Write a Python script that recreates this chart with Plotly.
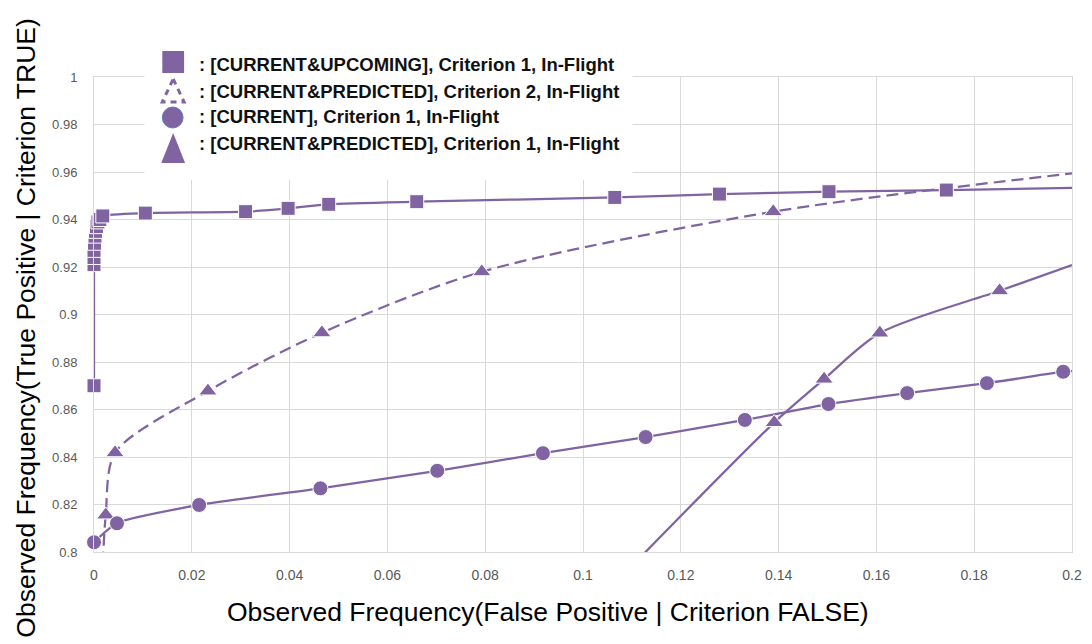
import plotly.graph_objects as go

# ---------------- data ----------------
# [CURRENT&UPCOMING], Criterion 1, In-Flight  (squares, solid)
up_x = [0.0, 0.0, 0.0, 0.0, 0.0001, 0.0002, 0.0003, 0.0005, 0.0008, 0.0012, 0.0018,
        0.0105, 0.031, 0.0397, 0.048, 0.066, 0.1065, 0.1279, 0.1503, 0.1743, 0.2]
up_y = [0.870, 0.921, 0.924, 0.927, 0.930, 0.933, 0.935, 0.937, 0.939, 0.940, 0.9415,
        0.9427, 0.9433, 0.9447, 0.9464, 0.9475, 0.9493, 0.9507, 0.9517, 0.9524, 0.9533]
up_marker = [True] * 20 + [False]

# [CURRENT&PREDICTED], Criterion 2, In-Flight  (triangles, dashed)
p2_x = [0.0018, 0.0024, 0.0043, 0.0233, 0.0466, 0.0793, 0.1389, 0.2]
p2_y = [0.795, 0.8156, 0.8418, 0.8678, 0.8923, 0.918, 0.9433, 0.9594]
p2_marker = [False, True, True, True, True, True, True, False]

# [CURRENT], Criterion 1, In-Flight  (circles, solid)
cur_x = [0.0, 0.0047, 0.0215, 0.0463, 0.0702, 0.0918, 0.1128, 0.1331, 0.1502,
         0.1663, 0.1826, 0.1982, 0.2]
cur_y = [0.8041, 0.8121, 0.8198, 0.8268, 0.8342, 0.8416, 0.8484, 0.8556, 0.8623,
         0.8669, 0.8711, 0.8759, 0.8762]
cur_marker = [True] * 12 + [False]

# [CURRENT&PREDICTED], Criterion 1, In-Flight  (triangles, solid)
p1_x = [0.109, 0.1391, 0.1493, 0.1607, 0.1852, 0.2]
p1_y = [0.792, 0.8545, 0.8728, 0.8922, 0.910, 0.9208]
p1_marker = [False, True, True, True, True, False]

series_names = [
    ": [CURRENT&UPCOMING], Criterion 1, In-Flight",
    ": [CURRENT&PREDICTED], Criterion 2, In-Flight",
    ": [CURRENT], Criterion 1, In-Flight",
    ": [CURRENT&PREDICTED], Criterion 1, In-Flight",
]

x_ticks = [0, 0.02, 0.04, 0.06, 0.08, 0.1, 0.12, 0.14, 0.16, 0.18, 0.2]
x_tick_labels = ["0", "0.02", "0.04", "0.06", "0.08", "0.1", "0.12", "0.14", "0.16", "0.18", "0.2"]
y_ticks = [0.8, 0.82, 0.84, 0.86, 0.88, 0.9, 0.92, 0.94, 0.96, 0.98, 1.0]
y_tick_labels = ["0.8", "0.82", "0.84", "0.86", "0.88", "0.9", "0.92", "0.94", "0.96", "0.98", "1"]

x_title = "Observed Frequency(False Positive | Criterion FALSE)"
y_title = "Observed Frequency(True Positive | Criterion TRUE)"

# ---------------- styling ----------------
W, H = 1092, 644
L, R, T, B = 94, 10, 77, 92
PW, PH = W - L - R, H - T - B
PURPLE = "#8064A2"
GRID = "#d9d9d9"
NARROW = "Liberation Sans Narrow, Arial Narrow, Liberation Sans, sans-serif"


def px(xp):
    return (xp - L) / PW


def py(yp):
    return (H - B - yp) / PH


def sizes(flags, s):
    return [s if f else 0 for f in flags]


fig = go.Figure()

fig.add_trace(go.Scatter(
    x=up_x, y=up_y, mode="lines+markers", name=series_names[0],
    line=dict(color=PURPLE, width=2.25, shape="spline", smoothing=0.6),
    marker=dict(symbol="square", size=sizes(up_marker, 14), color=PURPLE, opacity=1),
    cliponaxis=False, showlegend=False))

fig.add_trace(go.Scatter(
    x=p2_x, y=p2_y, mode="lines+markers", name=series_names[1],
    line=dict(color=PURPLE, width=2.25, shape="spline", smoothing=0.8, dash="12px,6px"),
    marker=dict(symbol="triangle-up", size=sizes(p2_marker, 16), color=PURPLE, opacity=1),
    cliponaxis=False, showlegend=False))

fig.add_trace(go.Scatter(
    x=cur_x, y=cur_y, mode="lines+markers", name=series_names[2],
    line=dict(color=PURPLE, width=2.25, shape="spline", smoothing=0.6),
    marker=dict(symbol="circle", size=sizes(cur_marker, 15), color=PURPLE, opacity=1),
    cliponaxis=False, showlegend=False))

fig.add_trace(go.Scatter(
    x=p1_x, y=p1_y, mode="lines+markers", name=series_names[3],
    line=dict(color=PURPLE, width=2.25, shape="spline", smoothing=0.8),
    marker=dict(symbol="triangle-up", size=sizes(p1_marker, 16), color=PURPLE, opacity=1),
    cliponaxis=False, showlegend=False))

shapes = []
# legend background
shapes.append(dict(type="rect", xref="paper", yref="paper",
                   x0=px(145), x1=px(638), y0=py(40), y1=py(180),
                   fillcolor="white", line=dict(width=0), layer="above"))
# square symbol
shapes.append(dict(type="rect", xref="paper", yref="paper",
                   x0=px(163), x1=px(185), y0=py(51), y1=py(73),
                   fillcolor=PURPLE, line=dict(width=0), layer="above"))
# dashed open triangle
shapes.append(dict(type="path", xref="paper", yref="paper",
                   path=f"M {px(174)} {py(79)} L {px(185)} {py(102)} L {px(163)} {py(102)} Z",
                   fillcolor="rgba(0,0,0,0)", line=dict(color=PURPLE, width=3, dash="6px,5px"),
                   layer="above"))
# circle
shapes.append(dict(type="circle", xref="paper", yref="paper",
                   x0=px(163), x1=px(184), y0=py(107), y1=py(128),
                   fillcolor=PURPLE, line=dict(color="#5b7fbf", width=1), layer="above"))
# solid triangle
shapes.append(dict(type="path", xref="paper", yref="paper",
                   path=f"M {px(174)} {py(133)} L {px(186)} {py(163)} L {px(162)} {py(163)} Z",
                   fillcolor=PURPLE, line=dict(width=0), layer="above"))

annotations = []
for name, yc in zip(series_names, [65, 91, 116, 143]):
    annotations.append(dict(text=f"<b>{name}</b>", xref="paper", yref="paper",
                            x=px(198), y=py(yc), xanchor="left", yanchor="middle",
                            showarrow=False,
                            font=dict(family=NARROW, size=18.5, color="#111111")))

annotations.append(dict(text=x_title, xref="paper", yref="paper",
                        x=px(553), y=py(612), xanchor="center", yanchor="middle",
                        showarrow=False, font=dict(family=NARROW, size=26.5, color="#000000")))
annotations.append(dict(text=y_title, xref="paper", yref="paper",
                        x=px(25), y=py(328), xanchor="center", yanchor="middle",
                        textangle=-90, showarrow=False,
                        font=dict(family=NARROW, size=26.5, color="#000000")))

fig.update_layout(
    width=W, height=H,
    margin=dict(l=L, r=R, t=T, b=B, pad=0),
    paper_bgcolor="white", plot_bgcolor="white",
    shapes=shapes, annotations=annotations,
    xaxis=dict(range=[0, 0.2], tickvals=x_ticks, ticktext=x_tick_labels,
               showgrid=True, gridcolor=GRID, gridwidth=1, zeroline=False,
               showline=True, linecolor=GRID, mirror=True, ticks="",
               ticklabelstandoff=10,
               tickfont=dict(family=NARROW, size=14, color="#595959")),
    yaxis=dict(range=[0.8, 1.0], tickvals=y_ticks, ticktext=y_tick_labels,
               showgrid=True, gridcolor=GRID, gridwidth=1, zeroline=False,
               showline=True, linecolor=GRID, mirror=True, ticks="",
               ticklabelstandoff=13,
               tickfont=dict(family="Liberation Sans, sans-serif", size=13, color="#595959")),
)

fig.write_html("out.html")
